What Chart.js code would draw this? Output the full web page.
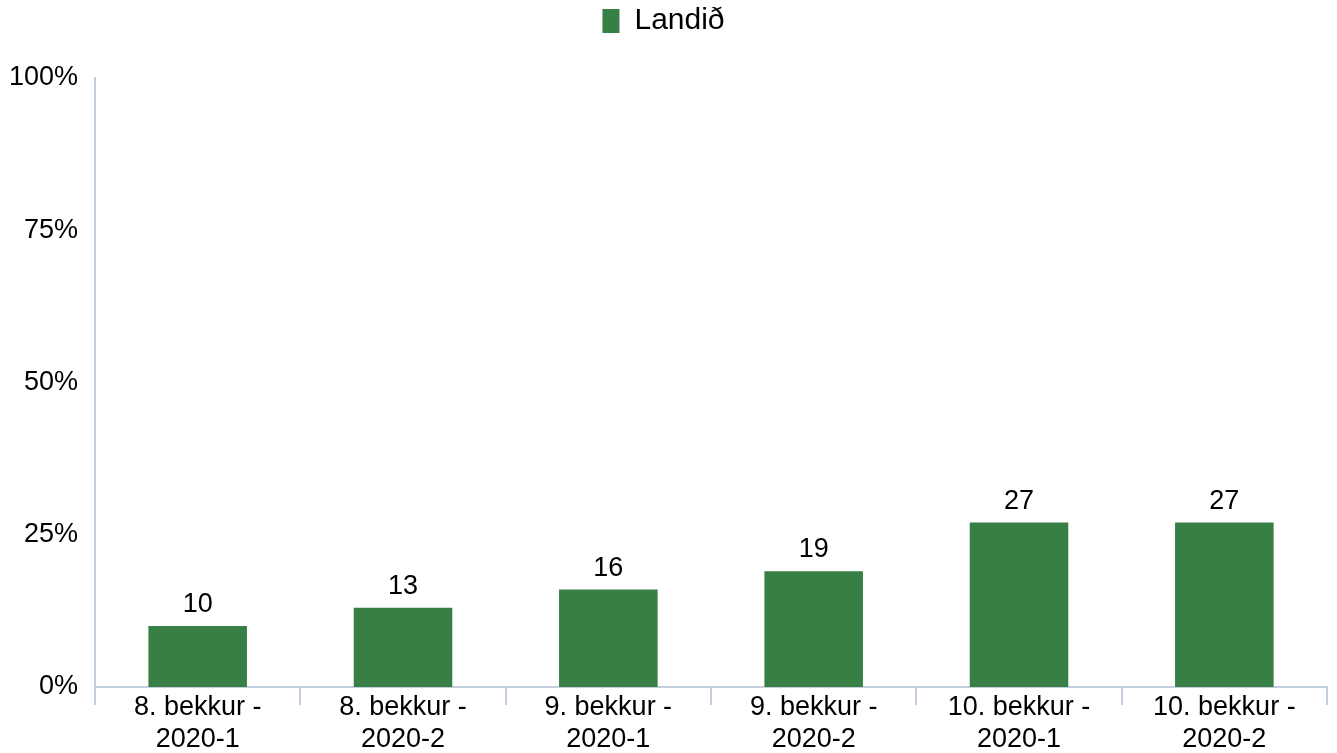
<!DOCTYPE html>
<html>
<head>
<meta charset="utf-8">
<script src="https://cdn.jsdelivr.net/npm/chart.js@4"></script>
<style>
  html, body { margin: 0; padding: 0; background: #fff; }
  #wrap { width: 1337px; height: 753px; }
</style>
</head>
<body>
<div id="wrap"><canvas id="landChart" width="1337" height="753"></canvas></div>
<script>
const categories = [
    ['8. bekkur -', '2020-1'],
    ['8. bekkur -', '2020-2'],
    ['9. bekkur -', '2020-1'],
    ['9. bekkur -', '2020-2'],
    ['10. bekkur -', '2020-1'],
    ['10. bekkur -', '2020-2']
];
const landid = [10, 13, 16, 19, 27, 27];
const yTicks = [0, 25, 50, 75, 100];

const axisColor = '#c3cedd';
const barColor = '#387f46';

// numbers above the bars
const valueLabels = {
    id: 'valueLabels',
    afterDatasetsDraw(chart) {
        const c = chart.ctx;
        c.save();
        c.font = '27px "Liberation Sans", Arial, sans-serif';
        c.fillStyle = '#000';
        c.textAlign = 'center';
        c.textBaseline = 'alphabetic';
        chart.getDatasetMeta(0).data.forEach(function (bar, i) {
            c.fillText(landid[i], bar.x, bar.y - 14);
        });
        c.restore();
    }
};

// keep the plot top at the same place as the original
const legendHeight = {
    id: 'legendHeight',
    afterInit(chart) {
        const lg = chart.legend;
        const fit = lg.fit;
        lg.fit = function () {
            fit.call(this);
            this.height = 78;
        };
    }
};

Chart.defaults.font.family = '"Liberation Sans", Arial, sans-serif';
Chart.defaults.color = '#000';

const ctx = document.getElementById('landChart').getContext('2d');
const myChart = new Chart(ctx, {
    type: 'bar',
    data: {
        labels: categories,
        datasets: [{
            label: 'Landið',
            data: landid,
            backgroundColor: barColor,
            categoryPercentage: 0.48,
            barPercentage: 1
        }]
    },
    options: {
        responsive: false,
        animation: false,
        layout: {
            padding: { left: 0, right: 10, top: 0, bottom: 0 }
        },
        scales: {
            y: {
                min: 0,
                max: 100,
                afterBuildTicks: function (axis) {
                    axis.ticks = yTicks.map(v => ({ value: v }));
                },
                afterFit: function (axis) {
                    axis.width = 95;
                },
                ticks: {
                    font: { size: 27 },
                    padding: 9,
                    callback: v => v + '%'
                },
                grid: { display: false },
                border: { display: true, color: axisColor, width: 2 }
            },
            x: {
                afterFit: function (axis) {
                    axis.height = 66;
                },
                ticks: {
                    font: { size: 27, lineHeight: 1.2 },
                    padding: -14,
                    maxRotation: 0
                },
                grid: {
                    display: true,
                    offset: true,
                    drawOnChartArea: false,
                    drawTicks: true,
                    tickLength: 18,
                    color: axisColor,
                    lineWidth: 2
                },
                border: { display: true, color: axisColor, width: 2 }
            }
        },
        plugins: {
            legend: {
                position: 'top',
                labels: {
                    font: { size: 30 },
                    boxWidth: 17,
                    boxHeight: 24,
                    padding: 6
                }
            },
            tooltip: { enabled: false }
        }
    },
    plugins: [valueLabels, legendHeight]
});
</script>
</body>
</html>
